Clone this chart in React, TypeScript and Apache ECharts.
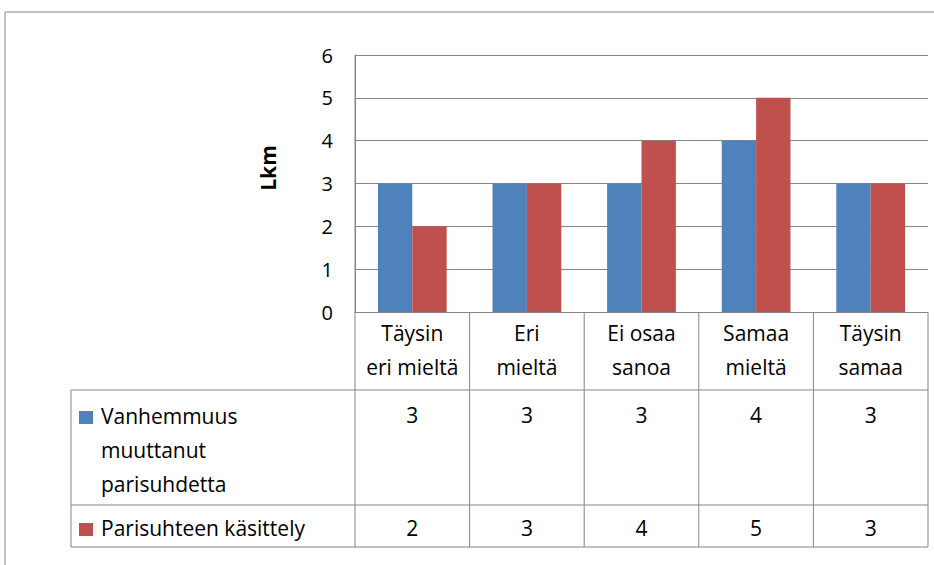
import React, { useEffect, useRef } from "react";
import * as echarts from "echarts";

const categories = ["Täysin\neri mieltä", "Eri\nmieltä", "Ei osaa\nsanoa", "Samaa\nmieltä", "Täysin\nsamaa"];
const seriesNames = ["Vanhemmuus muuttanut parisuhdetta", "Parisuhteen käsittely"];
const seriesLabelLines = [["Vanhemmuus", "muuttanut", "parisuhdetta"], ["Parisuhteen käsittely"]];
const vanhemmuus = [3, 3, 3, 4, 3];
const parisuhde = [2, 3, 4, 5, 3];
const yMin = 0;
const yMax = 6;
const yInterval = 1;
const yTitle = "Lkm";

const COLORS = ["#4F81BD", "#C0504D"];
const LINE = "#868686";
const FONT = "'Open Sans', Lato, sans-serif";
const FS = 21;

export default function App() {
  const ref = useRef<HTMLDivElement>(null);
  useEffect(() => {
    if (!ref.current) return;
    const chart = echarts.init(ref.current, undefined, { renderer: "svg" });
    chart.setOption({
      animation: false,
      backgroundColor: "#fff",
      grid: { left: 355, top: 55, width: 573, height: 257 },
      xAxis: {
        type: "category",
        data: categories,
        axisTick: { show: false },
        axisLine: { lineStyle: { color: LINE, width: 1 } },
        axisLabel: {
          interval: 0,
          margin: 4,
          fontSize: FS,
          lineHeight: 34,
          color: "#000",
          fontFamily: FONT,
        },
      },
      yAxis: {
        type: "value",
        min: yMin,
        max: yMax,
        interval: yInterval,
        axisLine: { show: true, lineStyle: { color: LINE, width: 1 } },
        axisTick: { show: false },
        splitLine: { lineStyle: { color: LINE, width: 1 } },
        axisLabel: { margin: 22, fontSize: FS - 1, color: "#000", fontFamily: FONT },
      },
      series: [
        { name: seriesNames[0], type: "bar", data: vanhemmuus, barGap: "0%", barCategoryGap: "40%", itemStyle: { color: COLORS[0] } },
        { name: seriesNames[1], type: "bar", data: parisuhde, barGap: "0%", barCategoryGap: "40%", itemStyle: { color: COLORS[1] } },
      ],
    });

    const xs = categories.map((_, i) => chart.convertToPixel({ xAxisIndex: 0 }, i) as number);
    const half = (xs[1] - xs[0]) / 2;
    const y0 = chart.convertToPixel({ yAxisIndex: 0 }, yMin) as number;
    const yTop = chart.convertToPixel({ yAxisIndex: 0 }, yMax) as number;
    const left = xs[0] - half;
    const right = xs[xs.length - 1] + half;
    const tableLeft = 71;
    const headerBottom = 390;
    const row1Bottom = 505;
    const row2Bottom = 547;

    const g: any[] = [];
    const ln = (x1: number, y1: number, x2: number, y2: number) =>
      g.push({ type: "line", shape: { x1, y1, x2, y2 }, style: { stroke: LINE, lineWidth: 1 }, silent: true });

    // outer border
    ln(5, 12, 934, 12);
    ln(5, 12, 5, 565);

    // table lines
    ln(left, yTop, left, row2Bottom);
    for (let i = 1; i <= categories.length; i++) ln(left + i * 2 * half, y0, left + i * 2 * half, row2Bottom);
    ln(tableLeft, headerBottom, right, headerBottom);
    ln(tableLeft, row1Bottom, right, row1Bottom);
    ln(tableLeft, row2Bottom, right, row2Bottom);
    ln(tableLeft, headerBottom, tableLeft, row2Bottom);

    const txt = (x: number, y: number, text: string, align: string, extra: any = {}) =>
      g.push({
        type: "text",
        x,
        y,
        silent: true,
        style: { text, fill: "#000", fontSize: FS, fontFamily: FONT, align, verticalAlign: "middle", ...extra },
      });

    const rowValueY = [415, 528];
    const rowLabelY = [416, 528];
    const seriesData = [vanhemmuus, parisuhde];
    seriesData.forEach((data, r) => {
      g.push({
        type: "rect",
        shape: { x: 79, y: rowLabelY[r] - 5, width: 14, height: 13 },
        style: { fill: COLORS[r] },
        silent: true,
      });
      seriesLabelLines[r].forEach((t, k) => txt(101, rowLabelY[r] + k * 34, t, "left"));
      data.forEach((v, i) => txt(xs[i], rowValueY[r], String(v), "center"));
    });

    // y title
    g.push({
      type: "text",
      x: 268,
      y: 168,
      rotation: Math.PI / 2,
      silent: true,
      style: { text: yTitle, fill: "#000", fontSize: FS, fontWeight: "bold", fontFamily: FONT, align: "center", verticalAlign: "middle" },
    });

    chart.setOption({ graphic: g });
    return () => chart.dispose();
  }, []);
  return <div ref={ref} style={{ position: "fixed", left: 0, top: 0, width: 934, height: 565 }} />;
}
